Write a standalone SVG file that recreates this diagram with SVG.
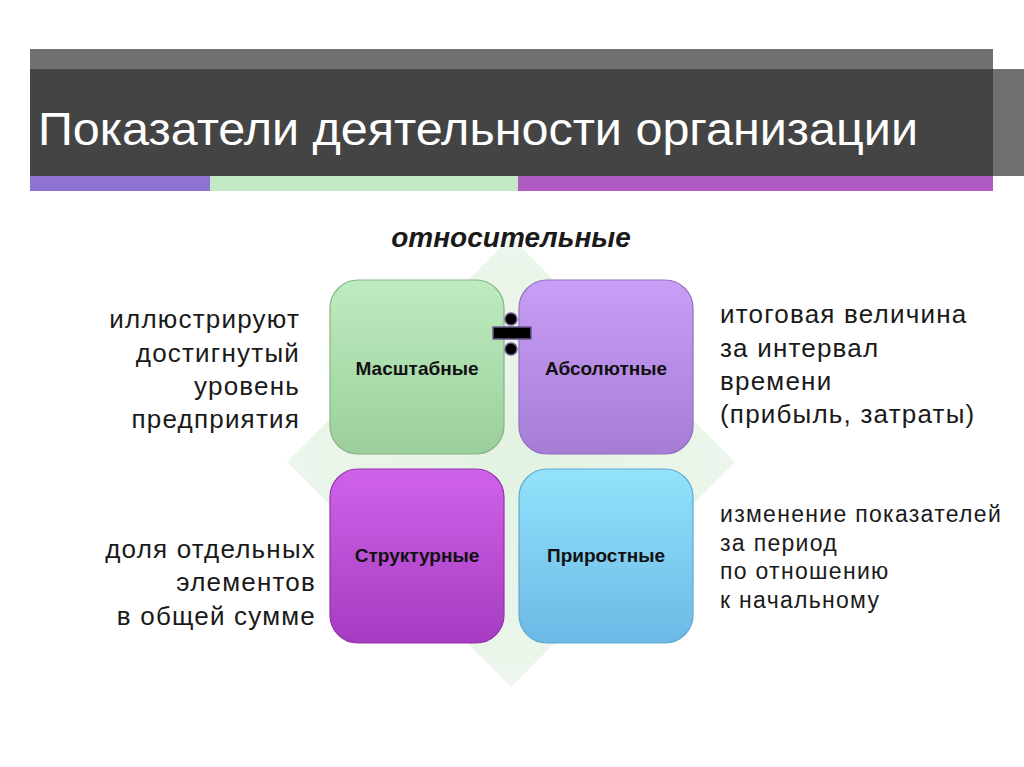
<svg xmlns="http://www.w3.org/2000/svg" width="1024" height="767" viewBox="0 0 1024 767">
<defs>
<style>
.t{font-family:"Liberation Sans",Arial,sans-serif;fill:#1a1a1a}
.side{font-size:26px;letter-spacing:1.2px}
.lbl{font-family:"Liberation Sans",Arial,sans-serif;font-size:19px;font-weight:bold;fill:#111;text-anchor:middle}
.box{stroke-width:1.2}
</style>
<linearGradient id="gG" x1="0" y1="0" x2="0" y2="1"><stop offset="0" stop-color="#BDECC0"/><stop offset="1" stop-color="#9CCE9B"/></linearGradient>
<linearGradient id="gP" x1="0" y1="0" x2="0" y2="1"><stop offset="0" stop-color="#C89EF6"/><stop offset="1" stop-color="#A67CD6"/></linearGradient>
<linearGradient id="gM" x1="0" y1="0" x2="0" y2="1"><stop offset="0" stop-color="#CF62E8"/><stop offset="1" stop-color="#A63CC1"/></linearGradient>
<linearGradient id="gB" x1="0" y1="0" x2="0" y2="1"><stop offset="0" stop-color="#92E2FB"/><stop offset="1" stop-color="#6CB9E6"/></linearGradient>
<radialGradient id="dia" cx="0.5" cy="0.5" r="0.6"><stop offset="0" stop-color="#E3F2E3"/><stop offset="1" stop-color="#EEF7EE"/></radialGradient>
</defs>
<rect width="1024" height="767" fill="#ffffff"/>
<g id="header">
<rect x="30" y="49" width="963" height="20" fill="#707070"/>
<rect x="993" y="69" width="31" height="107" fill="#707070"/>
<rect x="30" y="69" width="963" height="107" fill="#444444"/>
<rect x="30" y="176" width="180" height="15" fill="#8E74D0"/>
<rect x="210" y="176" width="308" height="15" fill="#C2E8C6"/>
<rect x="518" y="176" width="475" height="15" fill="#B05BC4"/>
<text x="38" y="145" font-family="'Liberation Sans',Arial,sans-serif" font-size="46" fill="#ffffff" textLength="880" lengthAdjust="spacingAndGlyphs">Показатели деятельности организации</text>
</g>
<g id="diamond">
<polygon points="511,237 735,462 511,687 287,462" fill="url(#dia)"/>
</g>
<text x="511" y="247" class="t" font-size="28" font-weight="bold" font-style="italic" text-anchor="middle">относительные</text>
<g id="connectors"></g>
<g id="node-masshtabnye">
<rect class="box" x="330" y="280" width="174" height="174" rx="28" fill="url(#gG)" stroke="#86B486"/>
<text class="lbl" x="417" y="375">Масштабные</text>
</g>
<g id="node-absolyutnye">
<rect class="box" x="519" y="280" width="174" height="174" rx="28" fill="url(#gP)" stroke="#9270C0"/>
<text class="lbl" x="606" y="375">Абсолютные</text>
</g>
<g id="node-strukturnye">
<rect class="box" x="330" y="469" width="174" height="174" rx="28" fill="url(#gM)" stroke="#9234AA"/>
<text class="lbl" x="417" y="562">Структурные</text>
</g>
<g id="node-prirostnye">
<rect class="box" x="519" y="469" width="174" height="174" rx="28" fill="url(#gB)" stroke="#62A8D4"/>
<text class="lbl" x="606" y="562">Приростные</text>
</g>
<g id="divide" fill="#000" stroke="#6B5A8C" stroke-width="1.5">
<rect x="493" y="327" width="38" height="12"/>
<circle cx="511" cy="319" r="6"/>
<circle cx="511" cy="349" r="6"/>
</g>
<g id="left-top" class="t side" text-anchor="end">
<text x="300" y="328">иллюстрируют</text>
<text x="300" y="362">достигнутый</text>
<text x="300" y="395">уровень</text>
<text x="300" y="428">предприятия</text>
</g>
<g id="left-bottom" class="t side" text-anchor="end">
<text x="316" y="558">доля отдельных</text>
<text x="316" y="591">элементов</text>
<text x="316" y="625">в общей сумме</text>
</g>
<g id="right-top" class="t side">
<text x="720" y="323">итоговая величина</text>
<text x="720" y="357">за интервал</text>
<text x="720" y="390">времени</text>
<text x="720" y="423">(прибыль, затраты)</text>
</g>
<g id="right-bottom" class="t" font-size="23" letter-spacing="1.3">
<text x="720" y="522">изменение показателей</text>
<text x="720" y="551">за период</text>
<text x="720" y="579">по отношению</text>
<text x="720" y="608">к начальному</text>
</g>
</svg>
